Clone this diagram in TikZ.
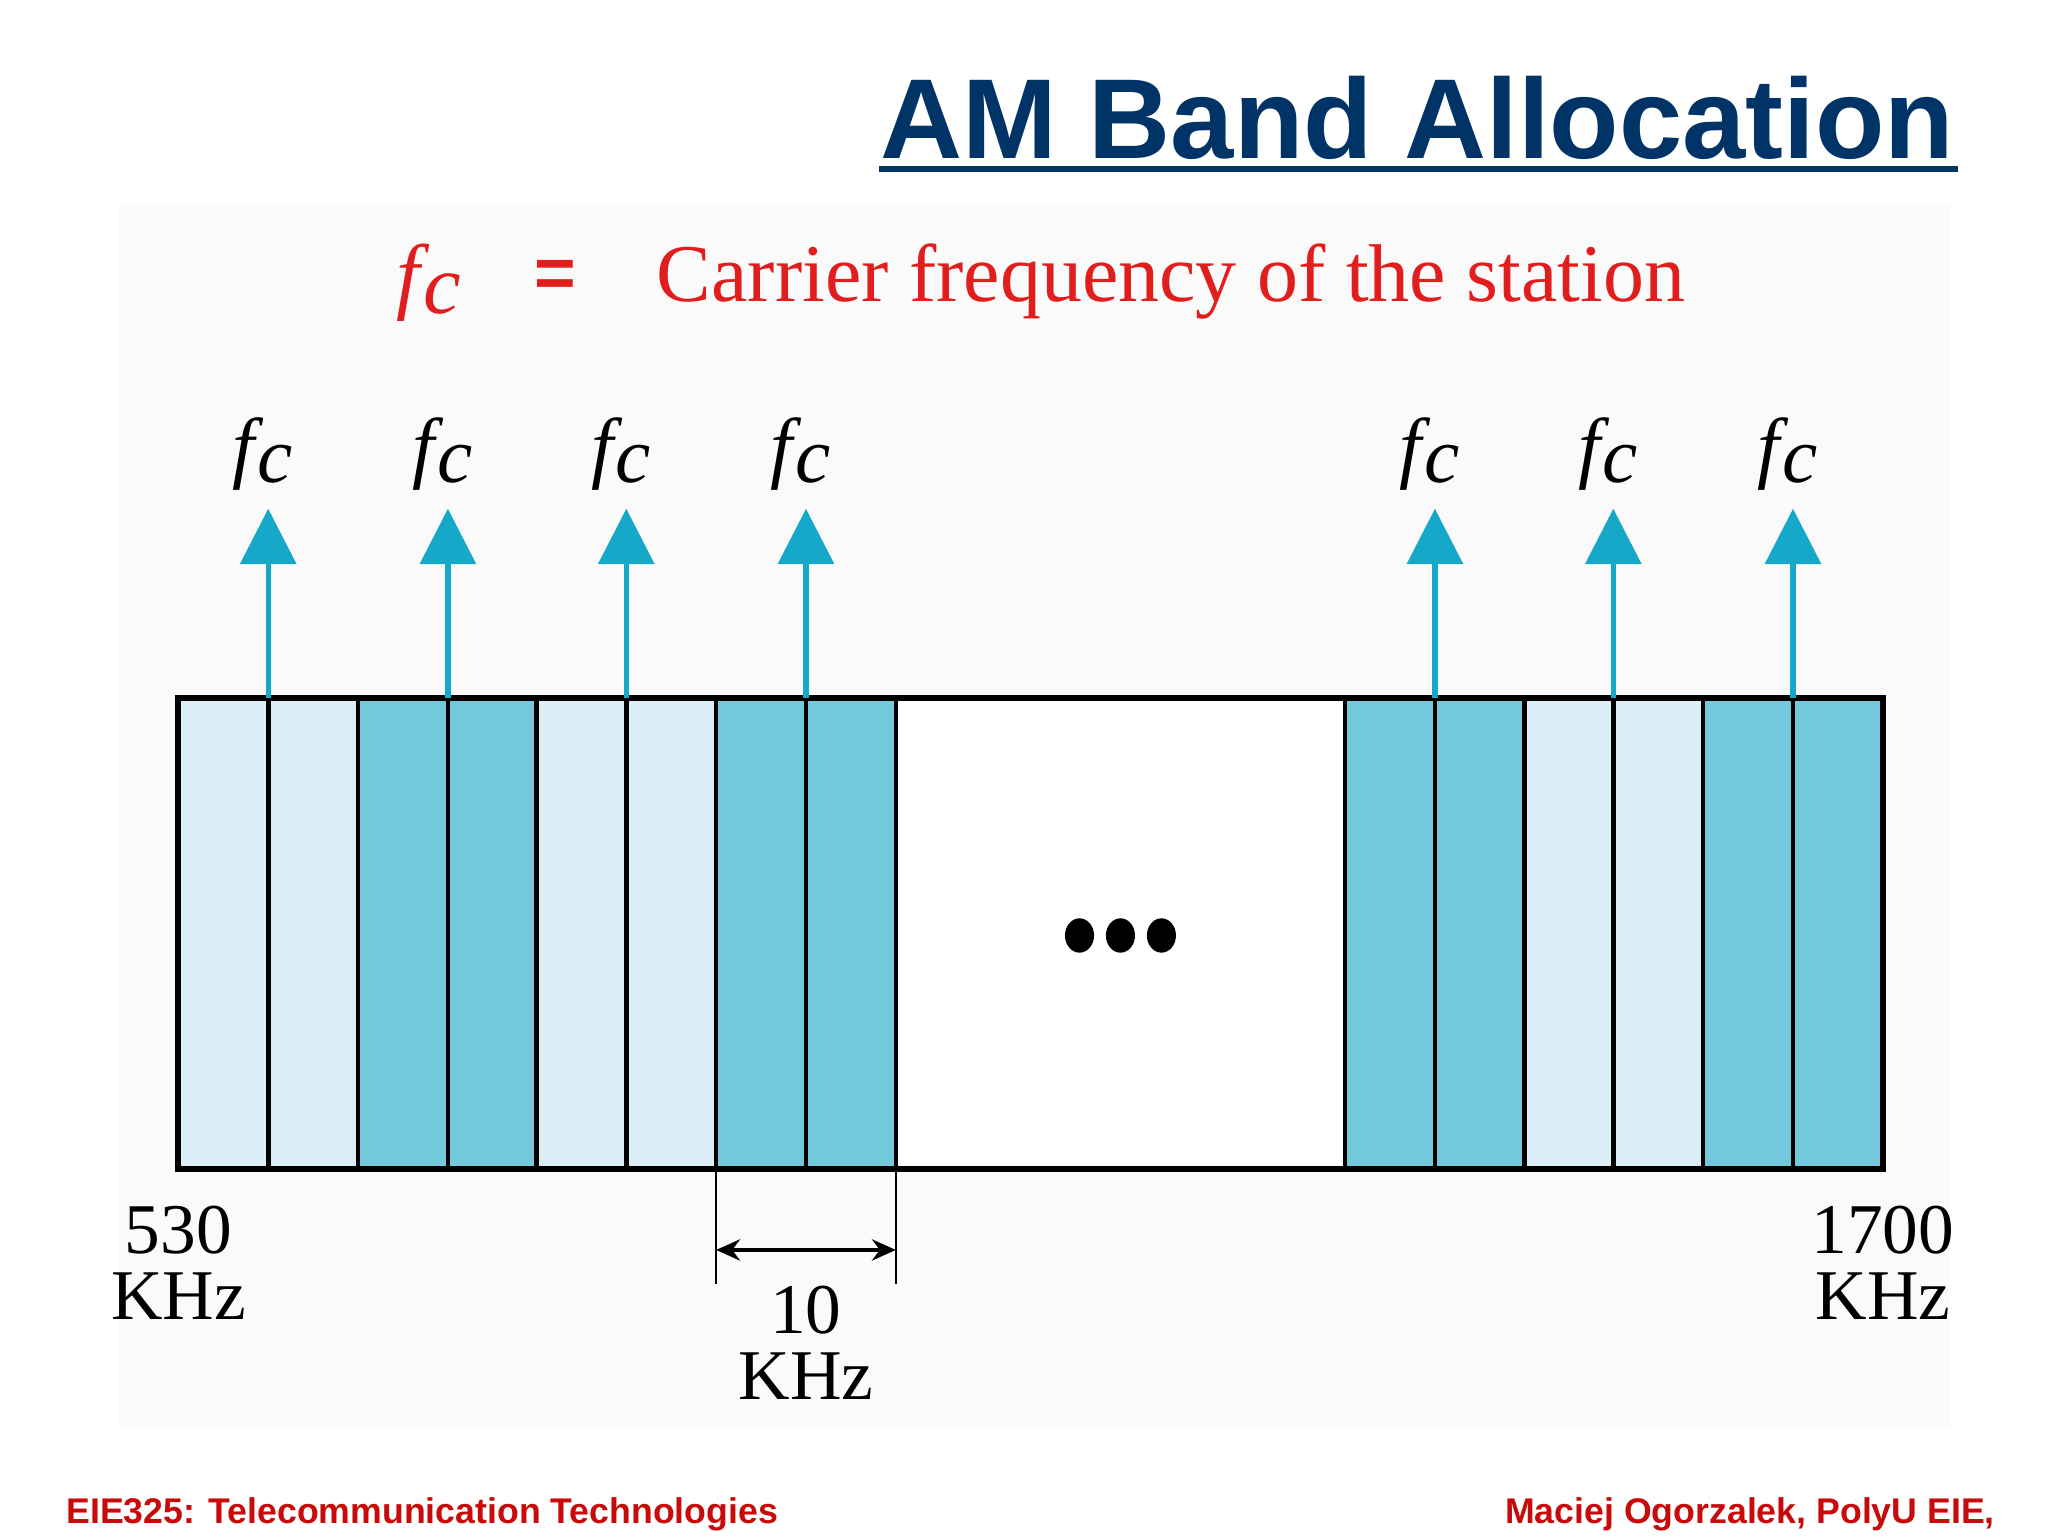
\documentclass[tikz,border=0pt]{standalone}
\usepackage{fontspec}
\setmainfont{Liberation Serif}
\setsansfont{Liberation Sans}
\usetikzlibrary{arrows.meta}
\definecolor{titleblue}{RGB}{0,51,102}
\definecolor{lightb}{RGB}{220,238,245}
\definecolor{darkb}{RGB}{116,200,220}
\definecolor{arrowc}{RGB}{22,168,200}
\definecolor{redt}{RGB}{225,30,30}
\definecolor{footred}{RGB}{200,10,10}
\newcommand{\fcsym}{\textit{f}\kern-0.08em\raisebox{-0.25ex}{\textit{c}}}
\tikzset{
  fs/.style={font=\fontsize{#1}{#1}\selectfont},
  fclab/.style={fs=60, inner sep=0pt},
  carrier/.style={arrowc, line width=4pt, -{Triangle[length=42pt,width=42pt]}},
  num/.style={font=\fontsize{54}{50}\selectfont, align=center, inner sep=0pt}
}
\begin{document}
\begin{tikzpicture}[x=1pt,y=-1pt]
\useasboundingbox (0,0) rectangle (1550,1162.5);
\fill[black!2] (90,155) rectangle (1475,1080);
% title
\node[anchor=base east, inner sep=0pt, text=titleblue, font=\sffamily\bfseries\fontsize{86}{88}\selectfont] (title) at (1479,120) {AM Band Allocation};
\draw[titleblue, line width=4pt] (665,128) -- (1482,128);
% legend
\node[anchor=base west, inner sep=0pt, text=redt, fs=64] (fcl) at (300,230) {\fcsym};
\node[anchor=base, inner sep=0pt, text=redt, font=\sffamily\bfseries\fontsize{54}{54}\selectfont] (eq) at (420,225) {=};
\node[anchor=base west, inner sep=0pt, text=redt, fs=62] (def) at (497,228) {Carrier frequency of the station};
% bands
\foreach \a/\b/\c in {135/271/lightb,271/406/darkb,406/542/lightb,542/678/darkb,678/1018/white,1018/1154/darkb,1154/1289/lightb,1289/1425/darkb}
  \fill[\c] (\a,528) rectangle (\b,885);
\foreach \x in {203,271,339,406,474,542,610,678,1018,1086,1154,1221,1289,1357}
  \draw[line width=3.5pt] (\x,528) -- (\x,885);
\draw[line width=4.5pt] (135,528) rectangle (1425,885);
% carriers
\foreach \x [count=\i] in {203,339,474,610,1086,1221,1357}{
  \coordinate (b\i) at (\x,528);
  \coordinate (t\i) at (\x,385);
  \draw[carrier] (b\i) -- (t\i);
  \node[fclab, anchor=base] (f\i) at (\x-4,358) {\fcsym};
}
% dots
\foreach \x in {817,848,879} \fill (\x,708) ellipse (11pt and 13pt);
% labels
\node[num] (l530) at (135,956) {530\\KHz};
\node[num] (l1700) at (1425,956) {1700\\KHz};
\draw[line width=1.5pt] (542,885) -- (542,972);
\draw[line width=1.5pt] (678,885) -- (678,972);
\coordinate (dl) at (542,946); \coordinate (dr) at (678,946);
\draw[line width=3pt, {Stealth[length=18pt,width=16pt]}-{Stealth[length=18pt,width=16pt]}] (dl) -- (dr);
\node[num] (l10) at (610,1016) {10\\KHz};
% footer
\node[anchor=base west, inner sep=0pt, text=footred, font=\sffamily\bfseries\fontsize{27}{27}\selectfont] (foot1) at (50,1153) {EIE325: Telecommunication Technologies};
\node[anchor=base east, inner sep=0pt, text=footred, font=\sffamily\bfseries\fontsize{27}{27}\selectfont] (foot2) at (1510,1153) {Maciej Ogorzalek, PolyU EIE,};
\end{tikzpicture}
\end{document}
